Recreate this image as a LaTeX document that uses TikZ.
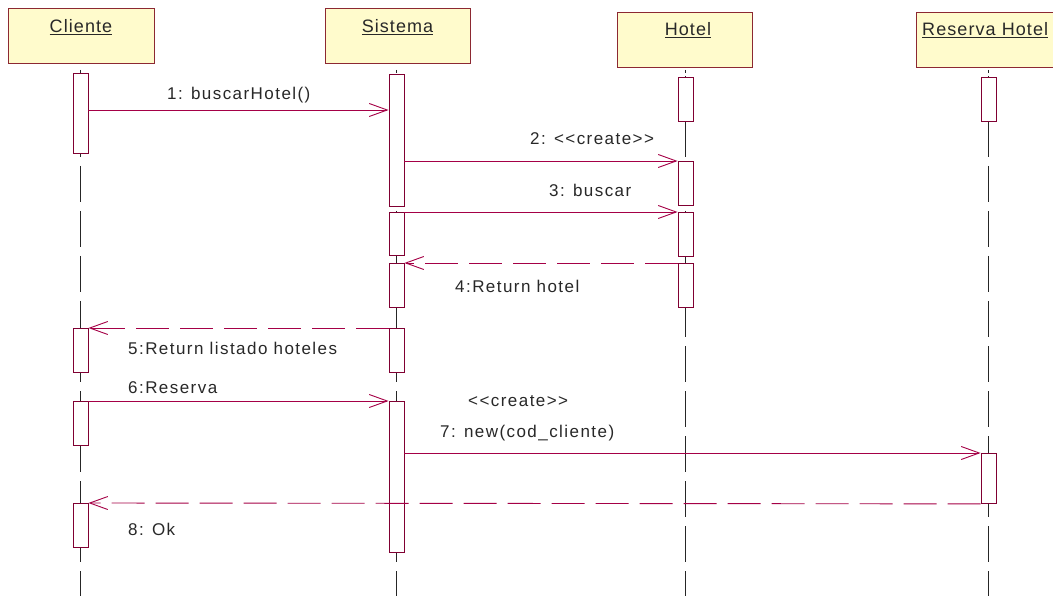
\documentclass[tikz,border=0pt]{standalone}
\usepackage{fontspec}
\setmainfont{Liberation Sans}
\newfontfamily\hfont[LetterSpace=6]{Liberation Sans}
\newfontfamily\mfont[LetterSpace=8.5]{Liberation Sans}
\usetikzlibrary{arrows.meta}
\definecolor{hfill}{RGB}{255,251,204}
\definecolor{hdraw}{RGB}{140,40,50}
\definecolor{mcol}{RGB}{165,0,70}
\definecolor{bcol}{RGB}{128,0,50}
\definecolor{tcol}{RGB}{40,40,40}
\begin{document}
\begin{tikzpicture}[x=1pt,y=-1pt,
  head/.style={draw=hdraw, fill=hfill, line width=1pt, minimum height=55pt, inner sep=0pt, anchor=north west},
  htxt/.style={inner sep=0pt, anchor=base, text=tcol, font=\hfont\fontsize{18}{20}\selectfont},
  act/.style={draw=bcol, fill=white, line width=0.9pt, minimum width=15pt, inner sep=0pt, anchor=north},
  life/.style={draw=black!85, line width=0.9pt, dash pattern=on 36pt off 9pt},
  tick/.style={draw=black!85, line width=0.9pt},
  msg/.style={draw=mcol, line width=0.9pt, -{Straight Barb[length=18pt,width=13pt,line width=0.9pt]}},
  ret/.style={msg, dash pattern=on 33pt off 11pt},
  mtxt/.style={inner sep=0pt, anchor=base west, text=tcol, font=\mfont\fontsize{17}{20}\selectfont}
]
\useasboundingbox (0,0) rectangle (1053,596);
\fill[white] (0,0) rectangle (1053,596);

% headers
\node[head, minimum width=146pt] (hc) at (8,8) {};
\node[head, minimum width=145pt] (hs) at (325,8) {};
\node[head, minimum width=135pt] (hh) at (617,12) {};
\node[head, minimum width=145pt] (hr) at (916,12) {};
\node[htxt] (tc) at (81,33) {\underline{Cliente}};
\node[htxt] (ts) at (397.5,33) {\underline{Sistema}};
\node[htxt] (th) at (688,36) {\underline{Hotel}};
\node[htxt, anchor=base west] (tr) at (922,36) {\underline{Reserva Hotel}};

% lifelines
\foreach \x in {80.5,396.5,685.5,988.5}{
  \draw[tick] (\x,70) -- (\x,73);
  \draw[life] (\x,76) -- (\x,600);
}

% activation bars
\node[act, minimum height=80pt] (c1) at (80.5,73) {};
\node[act, minimum height=44pt] (c2) at (80.5,328) {};
\node[act, minimum height=44pt] (c3) at (80.5,401) {};
\node[act, minimum height=44pt] (c4) at (80.5,503) {};

\node[act, minimum height=132pt] (s1) at (396.5,74) {};
\node[act, minimum height=43pt] (s2) at (396.5,212) {};
\node[act, minimum height=44pt] (s3) at (396.5,263) {};
\node[act, minimum height=44pt] (s4) at (396.5,328) {};
\node[act, minimum height=151pt] (s5) at (396.5,401) {};

\node[act, minimum height=44pt] (h1) at (685.5,77) {};
\node[act, minimum height=44pt] (h2) at (685.5,161) {};
\node[act, minimum height=44pt] (h3) at (685.5,212) {};
\node[act, minimum height=44pt] (h4) at (685.5,263) {};

\node[act, minimum height=44pt] (r1) at (988.5,77) {};
\node[act, minimum height=50pt] (r2) at (988.5,453) {};

% messages
\coordinate (m1) at (0,110);
\draw[msg] (c1.east |- m1) -- (s1.west |- m1);
\draw[msg] (s1.east |- h2.north west) -- (h2.north west);
\draw[msg] (s2.north east) -- (h3.north west);
\draw[ret] (h4.north west) -- (s3.north east);
\draw[ret] (s4.north west) -- (c2.north east);
\draw[msg] (c3.north east) -- (s5.north west);
\draw[msg] (s5.east |- r2.north west) -- (r2.north west);
\draw[ret] (r2.south west) -- (c4.north east);

% labels
\node[mtxt] (l1) at (167,100) {1: buscarHotel()};
\node[mtxt] (l2) at (530,145) {2: <{}<create>{}>};
\node[mtxt] (l3) at (549,197) {3: buscar};
\node[mtxt] (l4) at (455,293) {4:Return hotel};
\node[mtxt] (l5) at (128,355) {5:Return listado hoteles};
\node[mtxt] (l6) at (128,393) {6:Reserva};
\node[mtxt] (l7a) at (468,406) {<{}<create>{}>};
\node[mtxt] (l7) at (440,437) {7: new(cod\_cliente)};
\node[mtxt] (l8) at (128,535) {8: Ok};
\end{tikzpicture}
\end{document}
